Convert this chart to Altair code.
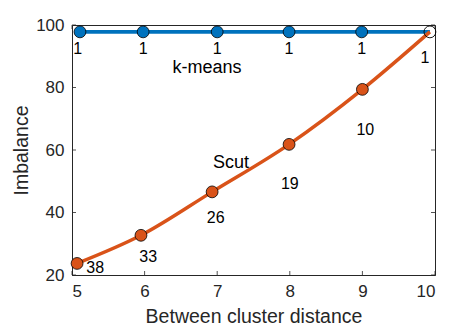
import altair as alt
import pandas as pd

# k-means series
km_x = [5.11, 5.98, 7.0, 7.99, 8.99, 9.93]
km_y = [97.8, 97.8, 97.8, 97.8, 97.8, 97.8]
km_lab = ["1", "1", "1", "1", "1", "1"]
km_lab_x = [5.08, 5.98, 7.0, 7.99, 8.99, 9.86]
km_lab_y = [92.4, 92.4, 92.4, 92.4, 92.4, 89.4]

# Scut series
sc_x = [5.07, 5.95, 6.93, 7.99, 9.0, 9.93]
sc_y = [23.7, 32.7, 46.6, 61.8, 79.4, 97.8]
sc_lab = ["38", "33", "26", "19", "10"]
sc_lab_x = [5.32, 6.05, 6.98, 8.0, 9.04]
sc_lab_y = [22.2, 25.8, 38.2, 49.1, 66.4]

names = ["k-means", "Scut"]
names_x = [6.86, 7.19]
names_y = [86.2, 55.8]

x_ticks = [5, 6, 7, 8, 9, 10]
y_ticks = [20, 40, 60, 80, 100]

BLUE = "#0072BD"
ORANGE = "#D95319"
FONT = "Liberation Sans"
W, H = 363, 250

km = pd.DataFrame({"x": km_x, "y": km_y})
sc = pd.DataFrame({"x": sc_x, "y": sc_y})
sc_pts = sc.iloc[:-1]
sc_last = sc.iloc[-1:]
kml = pd.DataFrame({"x": km_lab_x, "y": km_lab_y, "t": km_lab})
scl = pd.DataFrame({"x": sc_lab_x, "y": sc_lab_y, "t": sc_lab})
nm = pd.DataFrame({"x": names_x, "y": names_y, "t": names})
xt = pd.DataFrame({"v": x_ticks})
yt = pd.DataFrame({"v": y_ticks})

xs = alt.Scale(domain=[5, 10], nice=False)
ys = alt.Scale(domain=[20, 100], nice=False)

xax = alt.Axis(values=x_ticks, title="Between cluster distance", grid=False,
               ticks=False, labelPadding=8, titlePadding=8, format="d")
yax = alt.Axis(values=y_ticks, title="Imbalance", grid=False,
               ticks=False, labelPadding=8, titlePadding=4, format="d")

X = alt.X("x:Q", scale=xs, axis=xax)
Y = alt.Y("y:Q", scale=ys, axis=yax)

base_km = alt.Chart(km).encode(x=X, y=Y)
base_sc = alt.Chart(sc).encode(x=X, y=Y)

km_line = base_km.mark_line(color=BLUE, strokeWidth=3.8)
sc_line = base_sc.mark_line(color=ORANGE, strokeWidth=3.5, interpolate="monotone")
MS = 140
km_pt_main = alt.Chart(km.iloc[:-1]).mark_point(shape="circle", filled=True, fill=BLUE,
                                                stroke="black", strokeWidth=0.8, size=MS,
                                                opacity=1).encode(x=X, y=Y)
sc_pt = alt.Chart(sc_pts).mark_point(shape="circle", filled=True, fill=ORANGE,
                                     stroke="black", strokeWidth=0.8, size=MS,
                                     opacity=1).encode(x=X, y=Y)
last_pt = alt.Chart(sc_last).mark_point(shape="circle", filled=False, stroke="black",
                                        strokeWidth=0.9, size=MS,
                                        opacity=1).encode(x=X, y=Y)

t_km = alt.Chart(kml).mark_text(font=FONT, fontSize=16, color="black").encode(
    x=alt.X("x:Q", scale=xs), y=alt.Y("y:Q", scale=ys), text="t:N")
t_sc = alt.Chart(scl).mark_text(font=FONT, fontSize=16, color="black").encode(
    x=alt.X("x:Q", scale=xs), y=alt.Y("y:Q", scale=ys), text="t:N")
t_nm = alt.Chart(nm).mark_text(font=FONT, fontSize=18, color="black").encode(
    x=alt.X("x:Q", scale=xs), y=alt.Y("y:Q", scale=ys), text="t:N")

TK = 4
tick_col = "#262626"
xt_bot = alt.Chart(xt).mark_rule(color=tick_col, strokeWidth=0.8).encode(
    x=alt.X("v:Q", scale=xs), y=alt.value(H), y2=alt.value(H - TK))
xt_top = alt.Chart(xt).mark_rule(color=tick_col, strokeWidth=0.8).encode(
    x=alt.X("v:Q", scale=xs), y=alt.value(0), y2=alt.value(TK))
yt_left = alt.Chart(yt).mark_rule(color=tick_col, strokeWidth=0.8).encode(
    y=alt.Y("v:Q", scale=ys), x=alt.value(0), x2=alt.value(TK))
yt_right = alt.Chart(yt).mark_rule(color=tick_col, strokeWidth=0.8).encode(
    y=alt.Y("v:Q", scale=ys), x=alt.value(W), x2=alt.value(W - TK))

chart = alt.layer(
    xt_bot, xt_top, yt_left, yt_right,
    km_line, sc_line, km_pt_main, sc_pt, last_pt,
    t_km, t_sc, t_nm,
).properties(
    width=W, height=H,
    background="white",
    autosize=alt.AutoSizeParams(type="none"),
    padding={"left": 64, "top": 17, "right": 8, "bottom": 50},
).configure_view(
    stroke=tick_col, strokeWidth=1
).configure_axis(
    domainColor=tick_col, domainWidth=1,
    labelFont=FONT, labelFontSize=17, labelColor="#262626",
    titleFont=FONT, titleFontSize=19.5, titleFontWeight="normal", titleColor="#262626",
)

chart.save("out.html", embed_options={"renderer": "svg", "actions": False})
